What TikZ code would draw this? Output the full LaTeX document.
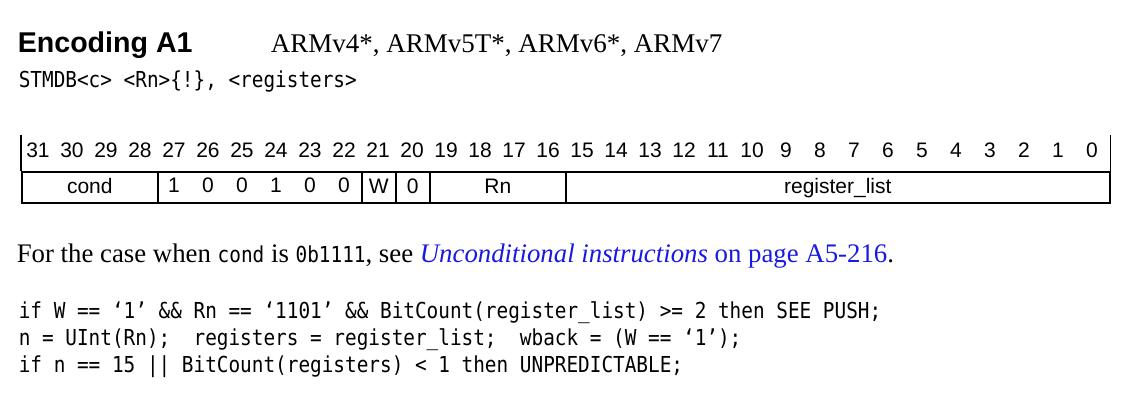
\documentclass[tikz,border=0pt]{standalone}
\usepackage{fontspec}
\setmainfont{Liberation Serif}
\setsansfont{Liberation Sans}
\setmonofont[FakeStretch=0.88]{DejaVu Sans Mono}
\definecolor{linkblue}{RGB}{25,25,225}

\tikzset{
	txt/.style={anchor=base west, inner sep=0pt},
	code/.style={txt, font=\ttfamily\fontsize{22}{24}\selectfont},
	bitnum/.style={anchor=base, inner sep=0pt, font=\sffamily\fontsize{21}{21}\selectfont},
	field/.style={draw, anchor=north west, minimum height=31pt, inner sep=0pt,
		text height=16pt, text depth=3pt, font=\sffamily\fontsize{21}{21}\selectfont},
}
% one field of the encoding row: name, high bit, low bit, text
\newcommand{\encfield}[4]{\node[field, minimum width={(#2-#3+1)*34pt}] (#1) at ({21+34*(31-#2)},171) {#4};}

\begin{document}
\begin{tikzpicture}[x=1pt, y=-1pt, line width=1.6pt]
	\useasboundingbox (0,0) rectangle (1141,406);
	\node[txt, font=\sffamily\bfseries\fontsize{28.6}{30}\selectfont] (enc) at (17,53) {Encoding A1};
	\node[txt, font=\fontsize{27}{30}\selectfont] (arch) at (270,53) {ARMv4*, ARMv5T*, ARMv6*, ARMv7};
	\node[code] (syntax) at (18,88) {STMDB<c> <Rn>\{!\}, <registers>};
	% bit numbers
	\foreach \b in {0,...,31}
		\node[bitnum] (b\b) at ({1109-34*\b-17},158) {\b};
	% fields
	\encfield{cond}{31}{28}{cond}
	\encfield{fixed}{27}{22}{}
	\encfield{W}{21}{21}{W}
	\encfield{zero}{20}{20}{0}
	\encfield{Rn}{19}{16}{Rn}
	\encfield{reglist}{15}{0}{register\_list}
	\foreach \b/\v in {27/1,26/0,25/0,24/1,23/0,22/0}
		\node[bitnum] (f\b) at ({1109-34*\b-17},193) {\v};
	\draw (cond.north west) -- ++(0,-36);
	\draw (reglist.north east) -- ++(0,-36);
	% text below
	\node[txt, font=\fontsize{26.8}{28}\selectfont] (note) at (16,263) {For the case when {\ttfamily\fontsize{22}{24}\selectfont cond} is {\ttfamily\fontsize{22}{24}\selectfont 0b1111}, see \textcolor{linkblue}{\textit{Unconditional instructions} on page A5-216}.};
	\node[code] (l1) at (18,318) {if W == ‘1’ \&\& Rn == ‘1101’ \&\& BitCount(register\_list) >= 2 then SEE PUSH;};
	\node[code] (l2) at (18,345) {n = UInt(Rn);~ registers = register\_list;~ wback = (W == ‘1’);};
	\node[code] (l3) at (18,372) {if n == 15 || BitCount(registers) < 1 then UNPREDICTABLE;};
\end{tikzpicture}
\end{document}
